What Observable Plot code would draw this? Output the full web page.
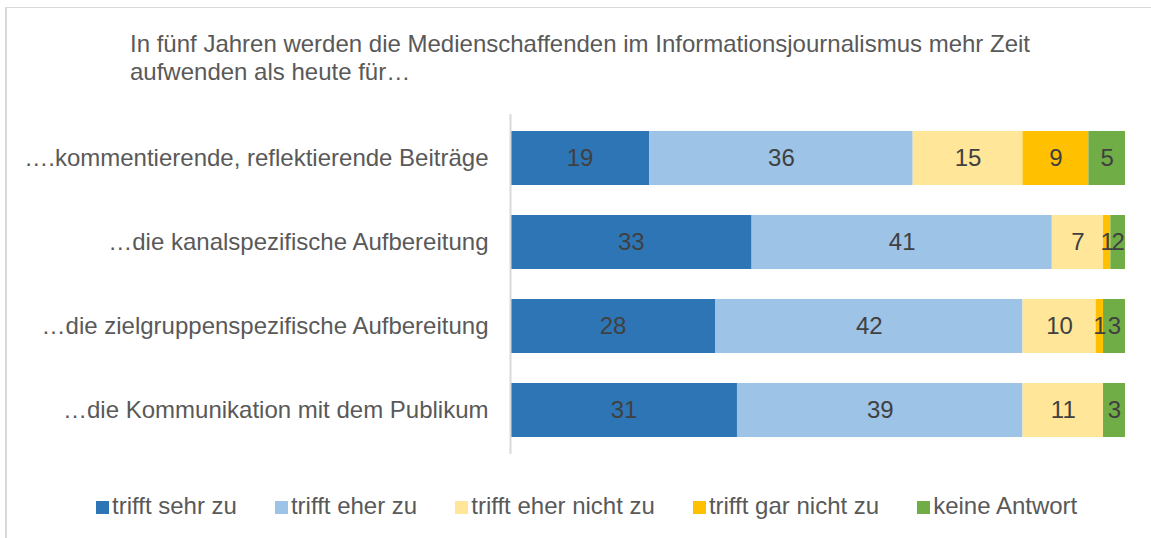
<!DOCTYPE html>
<html>
<head>
<meta charset="utf-8">
<script src="https://cdn.jsdelivr.net/npm/d3@7"></script>
<script src="https://cdn.jsdelivr.net/npm/@observablehq/plot@0.6"></script>
<style>
  html, body { margin: 0; padding: 0; background: #fff; }
  body { width: 1151px; height: 538px; position: relative; overflow: hidden; font-family: "Liberation Sans", Arial, sans-serif; }
  #frame { position: absolute; left: 5px; top: 7px; width: 1200px; height: 600px; border-left: 2px solid #d9d9d9; border-top: 1px solid #d9d9d9; }
  #title { position: absolute; left: 130px; top: 30px; font-size: 24px; line-height: 28px; color: #595959; white-space: nowrap; }
  #chart { position: absolute; left: 0; top: 0; }
  #legend { position: absolute; left: 96px; top: 492px; display: flex; gap: 38px; font-size: 24px; line-height: 28px; color: #595959; white-space: nowrap; }
  .item { display: flex; align-items: center; }
  .sw { width: 13px; height: 13px; margin-right: 3px; margin-top: 2px; }
</style>
</head>
<body>
<div id="frame"></div>
<div id="title">In fünf Jahren werden die Medienschaffenden im Informationsjournalismus mehr Zeit<br>aufwenden als heute für…</div>
<div id="chart"></div>
<div id="legend"></div>
<script>
const categories = [
  "….kommentierende, reflektierende Beiträge",
  "…die kanalspezifische Aufbereitung",
  "…die zielgruppenspezifische Aufbereitung",
  "…die Kommunikation mit dem Publikum"
];
const seriesNames = ["trifft sehr zu", "trifft eher zu", "trifft eher nicht zu", "trifft gar nicht zu", "keine Antwort"];
const seriesColors = ["#2E75B6", "#9DC3E6", "#FFE699", "#FFC000", "#70AD47"];
const trifftSehrZu = [19, 33, 28, 31];
const trifftEherZu = [36, 41, 42, 39];
const trifftEherNichtZu = [15, 7, 10, 11];
const trifftGarNichtZu = [9, 1, 1, 0];
const keineAntwort = [5, 2, 3, 3];

const seriesValues = [trifftSehrZu, trifftEherZu, trifftEherNichtZu, trifftGarNichtZu, keineAntwort];
const data = [];
categories.forEach((c, i) => {
  seriesNames.forEach((s, j) => {
    data.push({cat: c, series: s, value: seriesValues[j][i]});
  });
});

const stackOpts = {x: "value", y: "cat", z: "series", offset: "normalize", order: seriesNames};

const chart = Plot.plot({
  width: 1151,
  height: 470,
  marginLeft: 510,
  marginRight: 26,
  marginTop: 114,
  marginBottom: 16,
  style: {fontFamily: "Liberation Sans, Arial, sans-serif", fontSize: "24px", color: "#595959", background: "transparent"},
  x: {axis: null, domain: [0, 1]},
  y: {domain: categories, paddingInner: 0.355, paddingOuter: 0.19, tickSize: 0, tickPadding: 22, label: null},
  color: {domain: seriesNames, range: seriesColors},
  marks: [
    Plot.barX(data, Plot.stackX({...stackOpts, fill: "series"})),
    Plot.text(data.filter(d => d.value > 0), Plot.stackX({...stackOpts, text: d => String(d.value), fill: "#404040", fontSize: 24})),
    Plot.ruleX([0], {stroke: "#d9d9d9", strokeWidth: 2})
  ]
});
document.getElementById("chart").appendChild(chart);

const legend = document.getElementById("legend");
seriesNames.forEach((s, i) => {
  const it = document.createElement("div");
  it.className = "item";
  const sw = document.createElement("span");
  sw.className = "sw";
  sw.style.background = seriesColors[i];
  const t = document.createElement("span");
  t.textContent = s;
  it.appendChild(sw);
  it.appendChild(t);
  legend.appendChild(it);
});
</script>
</body>
</html>
